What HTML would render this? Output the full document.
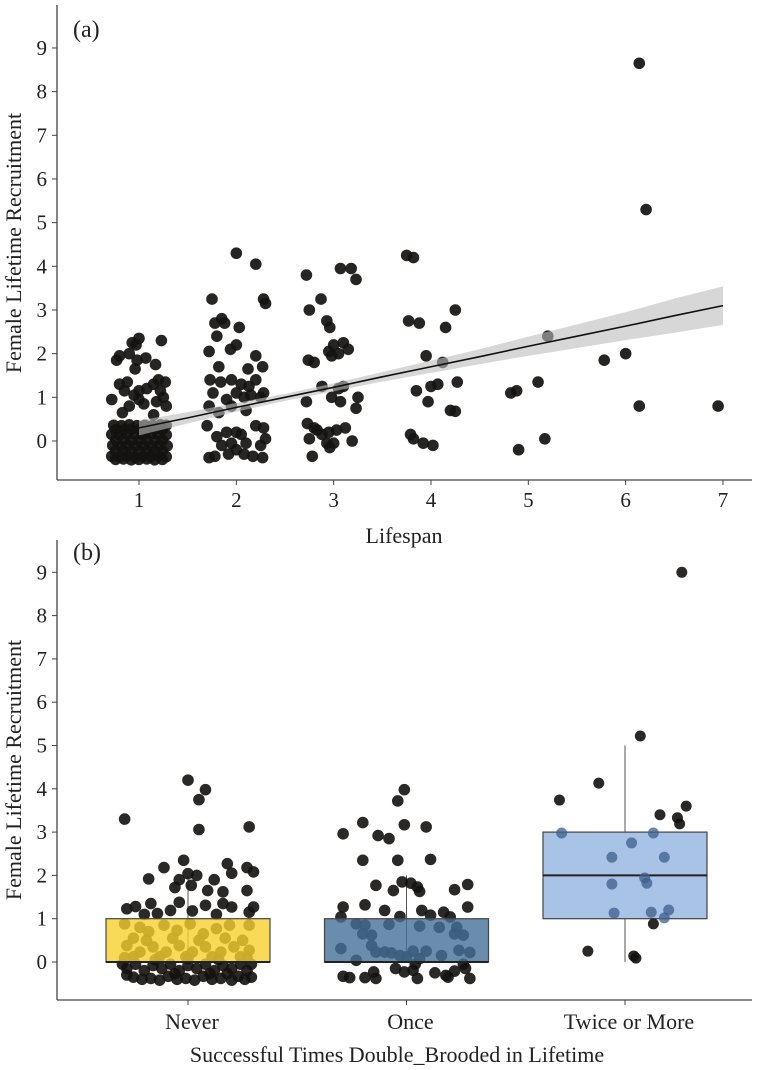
<!DOCTYPE html>
<html><head><meta charset="utf-8">
<style>
html,body{margin:0;padding:0;background:#fff;}
svg{display:block;font-family:"Liberation Serif",serif;}
</style></head>
<body>
<svg id="chart" width="764" height="1070" viewBox="0 0 764 1070"></svg>
<script>
// ---------- Panel (a) data ----------
const aTicksX = [1,2,3,4,5,6,7];
const aTicksY = [0,1,2,3,4,5,6,7,8,9];
const aPtsX = [0.77,0.8,0.9,0.93,0.97,1.0,1.23,0.98,1.07,0.96,1.17,0.72,0.8,0.85,0.88,0.95,1.0,1.08,1.15,1.2,1.27,1.25,1.28,0.9,1.05,1.18,0.83,1.15,1.0,1.22,
0.72,0.8,0.88,0.96,1.04,1.12,1.2,1.28,0.73,0.81,0.89,0.97,1.05,1.13,1.21,1.29,0.72,0.8,0.88,0.96,1.04,1.12,1.2,1.28,0.74,0.82,0.9,0.98,1.06,1.14,1.22,1.28,
0.76,0.84,0.92,1.0,1.08,1.16,1.24,0.76,0.84,0.92,1.0,1.08,1.16,1.24,0.76,0.84,0.92,1.0,1.08,1.16,1.24,0.76,0.84,0.92,1.0,1.08,1.16,1.24,
2.0,2.2,1.75,2.28,2.3,1.78,1.85,1.88,2.03,1.8,2.0,1.94,1.72,2.2,1.82,2.12,2.27,1.73,1.84,1.95,2.05,2.13,2.2,1.76,1.9,2.0,2.08,2.15,2.28,2.25,1.72,1.82,1.95,2.1,1.7,1.8,1.9,2.0,2.05,2.2,2.28,2.3,1.85,2.1,2.25,1.72,1.78,1.92,2.0,2.08,2.17,2.27,1.95,
2.72,3.07,3.18,3.23,2.87,2.75,2.93,2.96,3.1,3.0,2.95,3.05,3.15,2.98,2.74,2.8,2.88,3.05,3.1,2.72,2.98,3.07,3.25,3.23,2.73,2.8,2.83,2.88,2.95,3.03,3.12,2.75,2.93,3.0,3.19,2.78,2.96,
3.75,3.82,3.77,3.88,4.25,4.15,3.95,4.12,3.85,4.0,4.07,4.27,3.97,4.2,4.25,3.79,3.82,3.92,4.02,
4.82,4.88,5.1,5.2,4.9,5.17,5.78,6.0,6.14,6.21,6.14,6.95];
const aPtsY = [1.85,1.95,2.0,2.25,2.2,2.35,2.3,1.85,1.9,1.65,1.75,0.95,1.3,1.15,1.35,1.05,1.15,1.2,1.3,1.4,1.35,1.0,0.8,0.8,0.85,0.9,0.65,0.6,0.95,1.15,
-0.35,-0.36,-0.34,-0.37,-0.35,-0.36,-0.34,-0.36,-0.1,-0.12,-0.1,-0.11,-0.1,-0.12,-0.1,-0.11,0.15,0.14,0.16,0.15,0.14,0.16,0.15,0.14,0.36,0.35,0.37,0.35,0.36,0.35,0.37,0.36,
-0.42,-0.41,-0.43,-0.42,-0.41,-0.43,-0.42,-0.23,-0.22,-0.24,-0.23,-0.22,-0.24,-0.23,0.02,0.03,0.01,0.02,0.03,0.01,0.02,0.26,0.25,0.27,0.26,0.25,0.27,0.26,
4.3,4.05,3.25,3.25,3.15,2.7,2.8,2.7,2.6,2.4,2.2,2.1,2.05,1.95,1.7,1.65,1.7,1.4,1.35,1.4,1.3,1.25,1.4,1.1,0.95,1.1,1.0,1.05,1.1,1.0,0.8,0.65,0.8,0.7,0.35,0.1,0.2,0.2,0.15,0.35,0.3,0.05,-0.1,-0.05,-0.1,-0.38,-0.35,-0.3,-0.2,-0.3,-0.35,-0.38,-0.05,
3.8,3.95,3.95,3.7,3.25,3.0,2.75,2.6,2.25,2.2,2.05,2.0,2.1,1.95,1.85,1.8,1.25,1.2,1.25,0.9,1.0,0.9,1.0,0.75,0.4,0.3,0.25,0.15,0.2,0.25,0.3,0.05,-0.05,-0.05,0.0,-0.35,-0.15,
4.25,4.2,2.75,2.7,3.0,2.6,1.95,1.8,1.15,1.25,1.3,1.35,0.9,0.7,0.68,0.15,0.05,-0.05,-0.1,
1.1,1.15,1.35,2.4,-0.2,0.05,1.85,2.0,8.65,5.3,0.8,0.8];
const fitX = [1,1.5,2,2.5,3,3.5,4,4.5,5,5.5,6,6.5,7];
const fitY = [0.3,0.53,0.77,1.0,1.23,1.47,1.7,1.93,2.17,2.4,2.63,2.87,3.1];
const fitLo = [0.13,0.4,0.67,0.92,1.14,1.36,1.56,1.76,1.95,2.13,2.31,2.48,2.66];
const fitHi = [0.47,0.66,0.87,1.08,1.32,1.58,1.84,2.1,2.39,2.67,2.95,3.26,3.54];

// ---------- Panel (b) data ----------
const bCategories = ["Never","Once","Twice or More"];
const bTicksY = [0,1,2,3,4,5,6,7,8,9];
const boxQ1 = [0,0,1];
const boxMed = [0,0,2];
const boxQ3 = [1,1,3];
const boxMin = [0,0,0];
const boxMax = [2,2,5];
const boxFill = ["#f7d12e","#45709a","#a9c3e6"];
const neverDx = [-0.29,0,0.08,0.05,0.05,0.28,-0.02,-0.11,0.18,0.2,0.27,0.3,-0.18,-0.04,0,0.04,-0.06,0.015,0.09,0.12,0.16,0.27,-0.28,-0.24,-0.17,-0.14,-0.08,-0.04,0.02,0.08,0.13,0.16,0.2,0.28,0.3,-0.2,
-0.29,-0.22,-0.18,-0.11,-0.05,0.01,0.07,0.13,0.19,0.28,-0.28,-0.22,-0.16,-0.1,-0.04,0.02,0.08,0.15,0.21,0.28,-0.25,-0.13,-0.01,0.11,0.24,
-0.25,-0.19,-0.07,0.05,0.17,0.25,-0.29,-0.15,0.0,0.14,0.27,
-0.28,-0.2,-0.12,-0.04,0.04,0.12,0.2,0.27,-0.25,-0.17,-0.09,-0.01,0.07,0.15,0.23,0.29,-0.28,0.1,-0.06,0.18,
-0.24,-0.16,-0.08,0.0,0.08,0.16,0.24,-0.21,-0.13,-0.05,0.03,0.11,0.2,0.26,-0.3,0.29];
const neverY = [3.3,4.2,3.98,3.75,3.06,3.12,2.35,2.18,2.27,2.05,2.18,2.08,1.92,1.9,2.04,2.0,1.72,1.77,1.65,1.9,1.62,1.65,1.23,1.28,1.35,1.12,1.19,1.38,1.18,1.31,1.1,1.35,1.27,1.15,1.27,1.1,
0.88,0.8,0.7,0.85,0.73,0.88,0.65,0.77,0.85,0.85,0.38,0.23,0.35,0.23,0.38,0.23,0.35,0.23,0.35,0.27,0.12,0.12,0.12,0.12,0.12,
0.55,0.5,0.55,0.5,0.55,0.5,0.1,0.05,0.08,0.05,0.1,
-0.15,-0.2,-0.15,-0.2,-0.15,-0.2,-0.15,-0.2,-0.35,-0.38,-0.33,-0.38,-0.33,-0.38,-0.33,-0.35,-0.3,-0.27,-0.27,-0.27,
-0.05,-0.08,-0.05,-0.08,-0.05,-0.08,-0.05,-0.4,-0.42,-0.4,-0.42,-0.4,-0.42,-0.4,-0.05,-0.05];
const onceDx = [-0.01,-0.04,-0.2,-0.01,0.09,-0.29,-0.13,-0.08,-0.2,-0.04,0.11,-0.14,-0.06,-0.02,0.02,0.05,0.06,0.22,0.28,-0.29,-0.19,-0.1,-0.03,0.07,0.11,0.17,0.2,0.28,-0.3,
-0.23,-0.19,-0.2,-0.16,-0.08,0.06,0.15,0.23,0.26,0.22,-0.3,-0.16,-0.14,-0.1,-0.07,-0.03,0.03,0.09,0.06,0.16,0.24,0.29,-0.23,0,
-0.29,-0.26,-0.19,-0.15,-0.14,-0.05,-0.01,0.03,0.05,0.04,0.13,0.18,0.19,0.22,0.26,0.27,0.29];
const onceY = [3.98,3.72,3.22,3.17,3.12,2.96,2.92,2.85,2.35,2.35,2.37,1.77,1.65,1.85,1.82,1.73,1.63,1.67,1.79,1.27,1.32,1.19,1.05,1.19,1.08,1.15,1.04,1.27,1.04,
0.88,0.85,0.65,0.62,0.87,0.83,0.8,0.8,0.62,0.65,0.31,0.38,0.23,0.23,0.21,0.15,0.25,0.25,0.08,0.15,0.27,0.22,0.04,0.12,
-0.33,-0.36,-0.36,-0.23,-0.38,-0.15,-0.23,-0.19,-0.38,-0.05,-0.25,-0.31,-0.35,-0.21,-0.05,-0.15,-0.38];
const twiceDx = [0.26,0.07,-0.12,-0.3,-0.29,0.16,0.28,0.24,0.25,0.13,0.03,-0.06,0.18,0.09,0.1,-0.06,0.2,-0.05,0.12,0.18,0.13,-0.17,0.04,0.05];
const twiceY = [9.0,5.22,4.13,3.74,2.98,3.4,3.6,3.33,3.19,2.98,2.75,2.42,2.42,1.94,1.82,1.8,1.2,1.13,1.15,1.02,0.88,0.25,0.14,0.09];

// ---------- drawing ----------
const NS = "http://www.w3.org/2000/svg";
const svg = document.getElementById("chart");
function mk(tag, attrs, parent){
  const e = document.createElementNS(NS, tag);
  for (const k in attrs) e.setAttribute(k, attrs[k]);
  (parent||svg).appendChild(e);
  return e;
}
const axA = x => 139 + (x-1)*97.33;
const ayA = y => 441 - y*43.67;
const bxB = i => 188 + i*218.5;
const byB = y => 962 - y*43.3;
const PT = "#141210";

// ===== Panel A =====
const gA = mk("g",{});


aPtsX.forEach((x,i)=>{
  const c = mk("circle",{cx:axA(x),cy:ayA(aPtsY[i]),r:5.8,fill:PT,"fill-opacity":0.92},gA);
  
  
});
let band = fitX.map((x,i)=>axA(x)+","+ayA(fitHi[i])).join(" ")+" "+fitX.slice().reverse().map((x,j)=>{const i=fitX.length-1-j;return axA(x)+","+ayA(fitLo[i]);}).join(" ");
const bp = mk("polygon",{points:band,fill:"#bdbdbd","fill-opacity":0.6},gA);


const fl = mk("polyline",{points:fitX.map((x,i)=>axA(x)+","+ayA(fitY[i])).join(" "),fill:"none",stroke:"#111","stroke-width":1.6},gA);


const yaA = mk("line",{x1:57,y1:5,x2:57,y2:480,stroke:"#444","stroke-width":1.3},gA);


const xaA = mk("line",{x1:57,y1:480,x2:752,y2:480,stroke:"#444","stroke-width":1.3},gA);


aTicksY.forEach(v=>{
  mk("line",{x1:52,y1:ayA(v),x2:57,y2:ayA(v),stroke:"#444"},gA);
  const t = mk("text",{x:47,y:ayA(v)+7,"text-anchor":"end","font-size":21,fill:"#222"},gA);
  t.textContent = v;
  
  
});
aTicksX.forEach(v=>{
  mk("line",{x1:axA(v),y1:480,x2:axA(v),y2:485,stroke:"#444"},gA);
  const t = mk("text",{x:axA(v),y:507,"text-anchor":"middle","font-size":21,fill:"#222"},gA);
  t.textContent = v;
  
  
});
const xtA = mk("text",{x:404,y:543,"text-anchor":"middle","font-size":22,fill:"#222"},gA);
xtA.textContent = "Lifespan";


const ytA = mk("text",{x:0,y:0,"text-anchor":"middle","font-size":22,fill:"#222",transform:"translate(21,243) rotate(-90)"},gA);
ytA.textContent = "Female Lifetime Recruitment";


const laA = mk("text",{x:73,y:37,"font-size":24,fill:"#222"},gA);
laA.textContent = "(a)";



// ===== Panel B =====
const gB = mk("g",{});


const halfW = 82;
bCategories.forEach((c,i)=>{
  const w = mk("line",{x1:bxB(i),y1:byB(boxMin[i]),x2:bxB(i),y2:byB(boxMax[i]),stroke:"#555","stroke-width":1},gB);
  
  
});
function drawPts(dx, ys, idx){
  dx.forEach((d,i)=>{
    const c = mk("circle",{cx:bxB(idx)+d*218.5,cy:byB(ys[i]),r:5.8,fill:PT,"fill-opacity":0.9},gB);
    
    
  });
}
drawPts(neverDx, neverY, 0);
drawPts(onceDx, onceY, 1);
bCategories.forEach((c,i)=>{
  const r = mk("rect",{x:bxB(i)-halfW,y:byB(boxQ3[i]),width:halfW*2,height:byB(boxQ1[i])-byB(boxQ3[i]),fill:boxFill[i],"fill-opacity":i==2?1:0.8,stroke:"#444","stroke-width":1.2},gB);
  
  
  const m = mk("line",{x1:bxB(i)-halfW,y1:byB(boxMed[i]),x2:bxB(i)+halfW,y2:byB(boxMed[i]),stroke:"#222","stroke-width":2},gB);
  
  
});
const tw1 = mk("line",{x1:bxB(2),y1:byB(boxMax[2]),x2:bxB(2),y2:byB(boxQ3[2]),stroke:"#555"},gB);


twiceDx.forEach((d,i)=>{
  const inBox = twiceY[i]>=boxQ1[2] && twiceY[i]<=boxQ3[2];
  const c = mk("circle",{cx:bxB(2)+d*218.5,cy:byB(twiceY[i]),r:5.5,fill:inBox?"#3e5f8c":PT,"fill-opacity":inBox?0.75:0.9},gB);
  
  
});
const yaB = mk("line",{x1:57,y1:540,x2:57,y2:1000,stroke:"#444","stroke-width":1.3},gB);


const xaB = mk("line",{x1:57,y1:1000,x2:752,y2:1000,stroke:"#444","stroke-width":1.3},gB);


bTicksY.forEach(v=>{
  mk("line",{x1:52,y1:byB(v),x2:57,y2:byB(v),stroke:"#444"},gB);
  const t = mk("text",{x:47,y:byB(v)+7,"text-anchor":"end","font-size":21,fill:"#222"},gB);
  t.textContent = v;
  
  
});
bCategories.forEach((c,i)=>{
  mk("line",{x1:bxB(i),y1:1000,x2:bxB(i),y2:1005,stroke:"#444"},gB);
  const t = mk("text",{x:bxB(i)+4,y:1029,"text-anchor":"middle","font-size":22,fill:"#222"},gB);
  t.textContent = c;
  
  
});
const xtB = mk("text",{x:397,y:1062,"text-anchor":"middle","font-size":22,fill:"#222"},gB);
xtB.textContent = "Successful Times Double_Brooded in Lifetime";


const ytB = mk("text",{x:0,y:0,"text-anchor":"middle","font-size":22,fill:"#222",transform:"translate(21,770) rotate(-90)"},gB);
ytB.textContent = "Female Lifetime Recruitment";


const laB = mk("text",{x:73,y:560,"font-size":24,fill:"#222"},gB);
laB.textContent = "(b)";


</script>
</body></html>
